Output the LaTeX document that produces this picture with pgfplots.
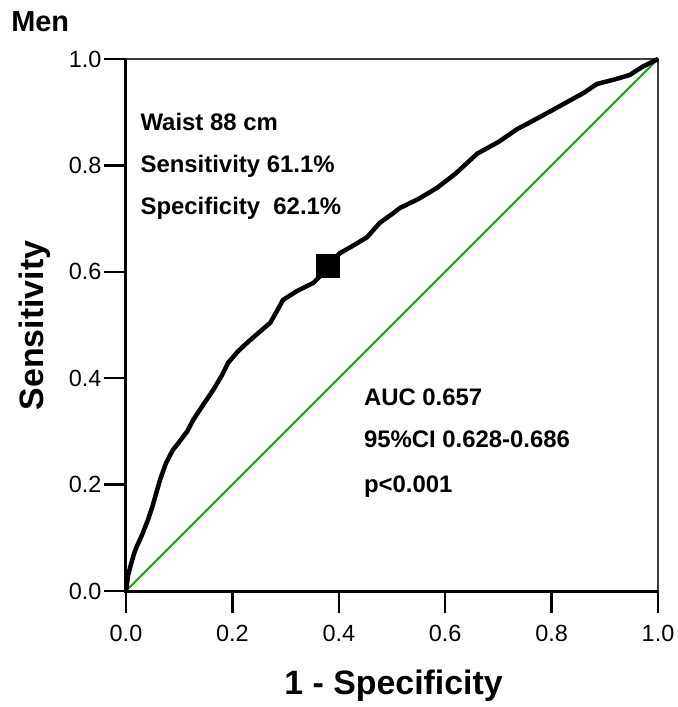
\documentclass[border=0pt]{standalone}
\usepackage{fontspec}
\setmainfont{Liberation Sans}
\usepackage{pgfplots}
\pgfplotsset{compat=1.18}
\definecolor{diag}{RGB}{20,160,20}

\begin{document}
\begin{tikzpicture}
  \begin{axis}[
      scale only axis,
      width=532bp, height=532bp,
      xmin=0, xmax=1, ymin=0, ymax=1,
      axis line style={draw=none},
      xtick={0,0.2,...,1.0},
      ytick={0,0.2,...,1.0},
      xtick pos=left, ytick pos=left,
      tick align=outside,
      major tick length=22bp,
      every tick/.style={black, line width=2.5bp},
      /pgf/number format/assume math mode=true,
      /pgf/number format/.cd, fixed, fixed zerofill, precision=1, /pgfplots/.cd,
      ticklabel style={font=\fontsize{23.5}{23.5}\selectfont},
      yticklabel style={xshift=1bp},
      xticklabel style={yshift=-9bp},
      clip=false,
    ]
    \draw[darkgray, line width=1.6bp] (rel axis cs:0,1) -- (rel axis cs:1,1) -- (rel axis cs:1,0);
    \addplot[diag, line width=2bp] coordinates {(0,0) (1,1)};
    \addplot[black, line width=4.5bp, line join=round] coordinates {
      (0,0) (0.004,0.03) (0.008,0.045) (0.015,0.07) (0.02,0.083) (0.03,0.105)
      (0.041,0.133) (0.05,0.16) (0.064,0.209) (0.075,0.24) (0.088,0.265)
      (0.1,0.28) (0.115,0.30) (0.126,0.321) (0.145,0.35) (0.164,0.378)
      (0.18,0.405) (0.192,0.429) (0.21,0.45) (0.227,0.466) (0.25,0.486)
      (0.271,0.504) (0.283,0.525) (0.295,0.547) (0.32,0.563) (0.352,0.579)
      (0.37,0.597) (0.379,0.611) (0.402,0.635) (0.425,0.648) (0.453,0.665)
      (0.477,0.692) (0.502,0.71) (0.515,0.72) (0.55,0.737) (0.585,0.758)
      (0.62,0.785) (0.66,0.822) (0.7,0.844) (0.735,0.868) (0.78,0.892)
      (0.829,0.919) (0.86,0.936) (0.885,0.953) (0.92,0.962) (0.947,0.970)
      (0.97,0.985) (1,1)
    };
    \addplot[only marks, mark=square*, mark size=11.5bp, black] coordinates {(0.379,0.611)};
    \draw[black, line width=3bp] (rel axis cs:0,1) -- (rel axis cs:0,0) -- (rel axis cs:1,0);

    \begin{scope}[every node/.style={anchor=base west, inner sep=0pt, font=\fontsize{24}{24}\selectfont\bfseries}]
      \node at (rel axis cs:0.027,0.865) {Waist 88 cm};
      \node at (rel axis cs:0.027,0.786) {Sensitivity 61.1\%};
      \node at (rel axis cs:0.027,0.707) {Specificity\ \ 62.1\%};
      \node at (rel axis cs:0.447,0.348) {AUC 0.657};
      \node at (rel axis cs:0.447,0.269) {95\%CI 0.628-0.686};
      \node at (rel axis cs:0.447,0.186) {p<0.001};
    \end{scope}
    \node[anchor=base west, inner sep=0pt, font=\fontsize{29}{29}\selectfont\bfseries] at (rel axis cs:-0.216,1.051) {Men};
    \node[rotate=90, font=\fontsize{34}{34}\selectfont\bfseries] at (rel axis cs:-0.171,0.499) {Sensitivity};
    \node[anchor=base, inner sep=0pt, font=\fontsize{34}{34}\selectfont\bfseries] at (rel axis cs:0.503,-0.195) {1 - Specificity};
    \coordinate (O) at (rel axis cs:0,0);
  \end{axis}
  \path ([shift={(-126bp,-116bp)}]O) rectangle ([shift={(550bp,591bp)}]O);
\end{tikzpicture}
\end{document}
